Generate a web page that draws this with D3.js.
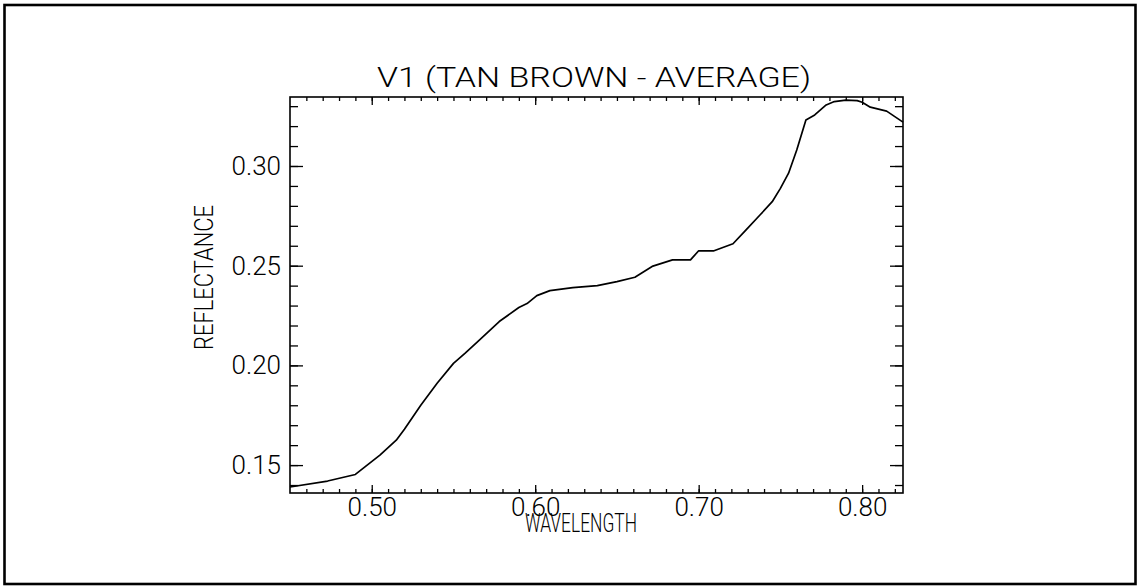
<!DOCTYPE html>
<html>
<head>
<meta charset="utf-8">
<script src="https://cdn.jsdelivr.net/npm/d3@7"></script>
<style>
  body { margin: 0; background: #fff; }
  svg { display: block; }
  .tick text { font-family: Roboto, "DejaVu Sans", sans-serif; font-weight: 300; fill: #000; }
  .domain { display: none; }
  .tick line { stroke: #000; stroke-width: 1.3; }
</style>
</head>
<body>
<svg id="chart" width="1138" height="587"></svg>
<script>
// spectrum (wavelength in microns, reflectance)
const wavelength = [0.450, 0.473, 0.490, 0.505, 0.515, 0.520, 0.530, 0.540, 0.550, 0.557,
  0.565, 0.578, 0.590, 0.595, 0.601, 0.609, 0.623, 0.638, 0.650, 0.661,
  0.672, 0.684, 0.695, 0.700, 0.709, 0.721, 0.729, 0.7375, 0.745, 0.750,
  0.755, 0.760, 0.7656, 0.771, 0.778, 0.783, 0.790, 0.797, 0.800, 0.805,
  0.815, 0.825];
const reflectance = [0.139, 0.142, 0.1453, 0.155, 0.1625, 0.168, 0.180, 0.191, 0.201, 0.206,
  0.212, 0.222, 0.229, 0.231, 0.235, 0.2375, 0.239, 0.240, 0.242, 0.2442,
  0.2498, 0.2529, 0.2529, 0.2575, 0.2574, 0.261, 0.268, 0.2754, 0.2821, 0.2888,
  0.2964, 0.308, 0.3231, 0.3256, 0.3306, 0.3323, 0.333, 0.3328, 0.332, 0.3295,
  0.3275, 0.322];

const xMajorTicks = [0.50, 0.60, 0.70, 0.80];
const yMajorTicks = [0.15, 0.20, 0.25, 0.30];
const xMinorTicks = d3.range(46, 83).map(d => d / 100);
const yMinorTicks = d3.range(14, 34).map(d => d / 100);

const TITLE = "V1 (TAN BROWN - AVERAGE)";
const X_TITLE = "WAVELENGTH";
const Y_TITLE = "REFLECTANCE";

const svg = d3.select("#chart");
const plotL = 290, plotR = 903, plotT = 97, plotB = 493;

const x = d3.scaleLinear().domain([0.45, 0.825]).range([plotL, plotR]);
const y = d3.scaleLinear().domain([0.136, 0.3346]).range([plotB, plotT]);

// outer page border
svg.append("rect")
  .attr("x", 4.5).attr("y", 5)
  .attr("width", 1131).attr("height", 579)
  .attr("fill", "none").attr("stroke", "#000").attr("stroke-width", 2.6);

// axes, all ticks pointing inward
const fmt = d3.format(".2f");

svg.append("g").attr("transform", `translate(0,${plotB})`)
  .call(d3.axisBottom(x).tickValues(xMinorTicks).tickSize(-4).tickFormat(""));
svg.append("g").attr("class", "xlab").attr("transform", `translate(0,${plotB})`)
  .call(d3.axisBottom(x).tickValues(xMajorTicks).tickSize(-8).tickPadding(5).tickFormat(fmt));
svg.append("g").attr("transform", `translate(0,${plotT})`)
  .call(d3.axisTop(x).tickValues(xMinorTicks).tickSize(-4).tickFormat(""));
svg.append("g").attr("transform", `translate(0,${plotT})`)
  .call(d3.axisTop(x).tickValues(xMajorTicks).tickSize(-8).tickFormat(""));

svg.append("g").attr("transform", `translate(${plotL},0)`)
  .call(d3.axisLeft(y).tickValues(yMinorTicks).tickSize(-8).tickFormat(""));
svg.append("g").attr("class", "ylab").attr("transform", `translate(${plotL},0)`)
  .call(d3.axisLeft(y).tickValues(yMajorTicks).tickSize(-13).tickPadding(9).tickFormat(fmt));
svg.append("g").attr("transform", `translate(${plotR},0)`)
  .call(d3.axisRight(y).tickValues(yMinorTicks).tickSize(-8).tickFormat(""));
svg.append("g").attr("transform", `translate(${plotR},0)`)
  .call(d3.axisRight(y).tickValues(yMajorTicks).tickSize(-13).tickFormat(""));

svg.selectAll(".xlab text, .ylab text").style("font-size", "26px");

// plot frame
svg.append("rect")
  .attr("x", plotL).attr("y", plotT)
  .attr("width", plotR - plotL).attr("height", plotB - plotT)
  .attr("fill", "none").attr("stroke", "#000").attr("stroke-width", 1.6);

// spectrum curve
const pts = wavelength.map((w, i) => [w, reflectance[i]]);
svg.append("path")
  .datum(pts)
  .attr("fill", "none")
  .attr("stroke", "#000")
  .attr("stroke-width", 1.7)
  .attr("stroke-linejoin", "round")
  .attr("d", d3.line().x(d => x(d[0])).y(d => y(d[1])));

// titles
const font = "Roboto, 'DejaVu Sans', sans-serif";
svg.append("text")
  .attr("x", 377).attr("y", 87)
  .attr("textLength", 434).attr("lengthAdjust", "spacingAndGlyphs")
  .style("font-family", font).style("font-weight", 300).style("font-size", "28px")
  .text(TITLE);

svg.append("text")
  .attr("x", 525).attr("y", 532)
  .attr("textLength", 112).attr("lengthAdjust", "spacingAndGlyphs")
  .style("font-family", font).style("font-weight", 300).style("font-size", "25px")
  .text(X_TITLE);

svg.append("text")
  .attr("transform", "translate(213,350) rotate(-90)")
  .attr("textLength", 145).attr("lengthAdjust", "spacingAndGlyphs")
  .style("font-family", font).style("font-weight", 300).style("font-size", "25px")
  .text(Y_TITLE);
</script>
</body>
</html>
